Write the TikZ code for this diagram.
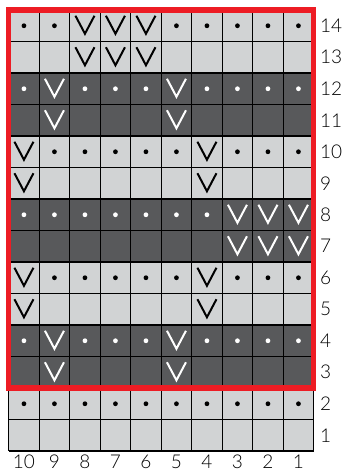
\documentclass[tikz,border=0pt]{standalone}
\usepackage{fontspec}
\setmainfont{Lato}[UprightFont=* Light]
\definecolor{lightcell}{HTML}{D1D3D4}
\definecolor{darkcell}{HTML}{58595B}
\definecolor{chartred}{HTML}{ED1C24}
\begin{document}
\begin{tikzpicture}[x=1pt,y=-1pt,
  gridline/.style={draw=black,line width=1.1pt},
  vsym/.style={line width=2pt,line join=miter,line cap=butt},
  numlabel/.style={font=\fontsize{19}{19}\selectfont,inner sep=0pt},
  redframe/.style={draw=chartred,line width=5.5pt}]
\useasboundingbox (0,0) rectangle (345,472);
\pgfmathsetmacro{\xo}{8.7}
\pgfmathsetmacro{\cw}{30.5}
\pgfmathsetmacro{\yo}{10}
\pgfmathsetmacro{\rh}{31.5}
% cell centre helpers
\newcommand{\kV}[3]{%
  \pgfmathsetmacro{\cx}{\xo+(#1-0.5)*\cw}%
  \pgfmathsetmacro{\cy}{\yo+(14-#2+0.5)*\rh}%
  \draw[vsym,#3] (\cx-9.5,\cy-10) -- (\cx,\cy+8) -- (\cx+9.5,\cy-10);}
\newcommand{\kD}[3]{%
  \pgfmathsetmacro{\cx}{\xo+(#1-0.5)*\cw}%
  \pgfmathsetmacro{\cy}{\yo+(14-#2+0.5)*\rh}%
  \fill[#3] (\cx,\cy) circle (2.4);}
% backgrounds
\fill[lightcell] (\xo,\yo) rectangle ({\xo+10*\cw},{\yo+14*\rh});
\foreach \r in {3,4,7,8,11,12}
  \fill[darkcell] (\xo,{\yo+(14-\r)*\rh}) rectangle ({\xo+10*\cw},{\yo+(15-\r)*\rh});
% grid
\foreach \i in {0,...,10}
  \draw[gridline] ({\xo+\i*\cw},\yo) -- ({\xo+\i*\cw},{\yo+14*\rh});
\foreach \j in {0,...,14}
  \draw[gridline] (\xo,{\yo+\j*\rh}) -- ({\xo+10*\cw},{\yo+\j*\rh});
% row 14
\foreach \c in {1,2,6,7,8,9,10} {\kD{\c}{14}{black}}
\foreach \c in {3,4,5} {\kV{\c}{14}{black}}
% row 13
\foreach \c in {3,4,5} {\kV{\c}{13}{black}}
% row 12
\foreach \c in {1,3,4,5,7,8,9,10} {\kD{\c}{12}{white}}
\foreach \c in {2,6} {\kV{\c}{12}{white}}
% row 11
\foreach \c in {2,6} {\kV{\c}{11}{white}}
% row 10
\foreach \c in {2,3,4,5,6,8,9,10} {\kD{\c}{10}{black}}
\foreach \c in {1,7} {\kV{\c}{10}{black}}
% row 9
\foreach \c in {1,7} {\kV{\c}{9}{black}}
% row 8
\foreach \c in {1,...,7} {\kD{\c}{8}{white}}
\foreach \c in {8,9,10} {\kV{\c}{8}{white}}
% row 7
\foreach \c in {8,9,10} {\kV{\c}{7}{white}}
% row 6
\foreach \c in {2,3,4,5,6,8,9,10} {\kD{\c}{6}{black}}
\foreach \c in {1,7} {\kV{\c}{6}{black}}
% row 5
\foreach \c in {1,7} {\kV{\c}{5}{black}}
% row 4
\foreach \c in {1,3,4,5,7,8,9,10} {\kD{\c}{4}{white}}
\foreach \c in {2,6} {\kV{\c}{4}{white}}
% row 3
\foreach \c in {2,6} {\kV{\c}{3}{white}}
% row 2
\foreach \c in {1,...,10} {\kD{\c}{2}{black}}
% red frame around rows 3-14
\draw[redframe] (\xo,\yo) rectangle ({\xo+10*\cw},{\yo+12*\rh});
% row labels
\foreach \r in {1,...,14}
  \node[numlabel,anchor=west] (rl\r) at (320,{\yo+(14-\r+0.5)*\rh}) {\r};
% column labels
\foreach \c in {1,...,10} {
  \pgfmathtruncatemacro{\lab}{11-\c}
  \node[numlabel,anchor=base] (cl\c) at ({\xo+(\c-0.5)*\cw},468.8) {\lab};
}
\end{tikzpicture}
\end{document}
